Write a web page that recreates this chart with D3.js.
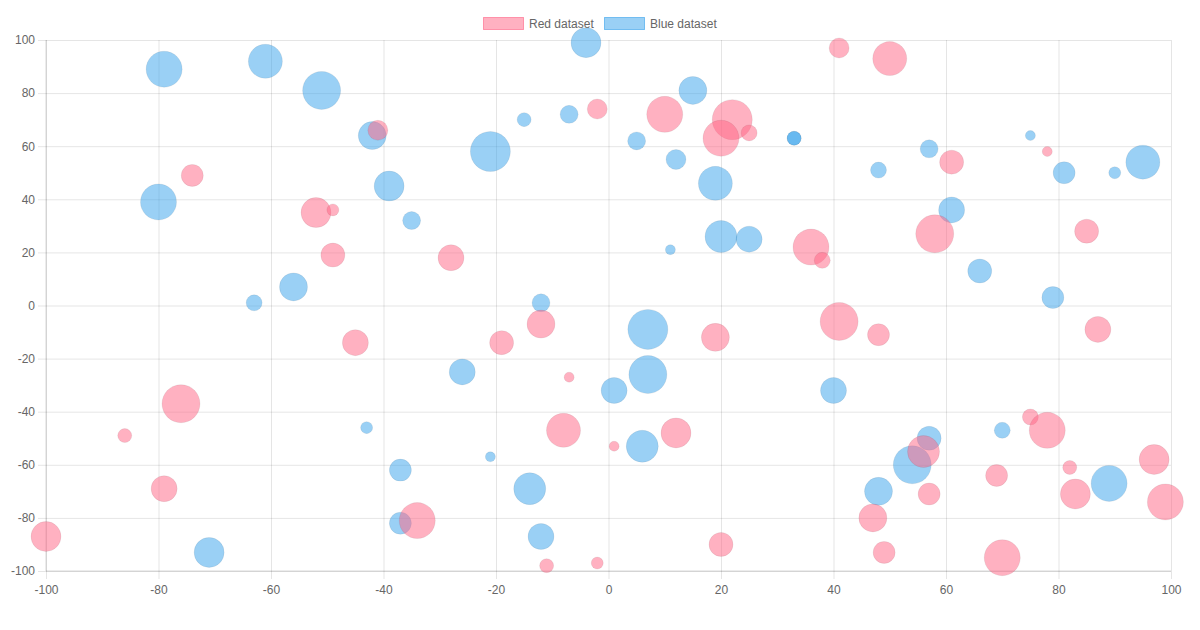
<!DOCTYPE html>
<html>
<head>
<meta charset="utf-8">
<script src="https://cdn.jsdelivr.net/npm/d3@7"></script>
<style>
  body { margin: 0; background: #fff; }
  text { font-family: "Liberation Sans", Arial, Helvetica, sans-serif; }
</style>
</head>
<body>
<script>
// tick values for both axes
const xTicks = [-100, -80, -60, -40, -20, 0, 20, 40, 60, 80, 100];
const yTicks = [-100, -80, -60, -40, -20, 0, 20, 40, 60, 80, 100];

const datasetNames = ["Red dataset", "Blue dataset"];

// red dataset: x, y, r
const redData = [
    {x: -100, y: -87, r: 15}, {x: -86, y: -49, r: 7}, {x: -76, y: -37, r: 19},
    {x: -79, y: -69, r: 13}, {x: -74, y: 49, r: 11}, {x: -52, y: 35, r: 15},
    {x: -49, y: 36, r: 6}, {x: -49, y: 19, r: 12}, {x: -41, y: 66, r: 10},
    {x: -45, y: -14, r: 13}, {x: -34, y: -81, r: 18}, {x: -28, y: 18, r: 13},
    {x: -19, y: -14, r: 12}, {x: -12, y: -7, r: 14}, {x: -7, y: -27, r: 5},
    {x: -8, y: -47, r: 17}, {x: -11, y: -98, r: 7}, {x: -2, y: -97, r: 6},
    {x: -2, y: 74, r: 10}, {x: 1, y: -53, r: 5}, {x: 10, y: 72, r: 18},
    {x: 12, y: -48, r: 15}, {x: 19, y: -12, r: 14}, {x: 20, y: -90, r: 12},
    {x: 22, y: 70, r: 20}, {x: 20, y: 63, r: 18}, {x: 25, y: 65, r: 8},
    {x: 41, y: 97, r: 10}, {x: 50, y: 93, r: 17}, {x: 36, y: 22, r: 18},
    {x: 38, y: 17, r: 8}, {x: 41, y: -6, r: 19}, {x: 48, y: -11, r: 11},
    {x: 58, y: 27, r: 19}, {x: 61, y: 54, r: 12}, {x: 78, y: 58, r: 5},
    {x: 85, y: 28, r: 12}, {x: 87, y: -9, r: 13}, {x: 75, y: -42, r: 8},
    {x: 78, y: -47, r: 18}, {x: 56, y: -55, r: 16}, {x: 57, y: -71, r: 11},
    {x: 47, y: -80, r: 14}, {x: 49, y: -93, r: 11}, {x: 69, y: -64, r: 11},
    {x: 70, y: -95, r: 18}, {x: 82, y: -61, r: 7}, {x: 83, y: -71, r: 15},
    {x: 97, y: -58, r: 15}, {x: 99, y: -74, r: 18}
];

// blue dataset: x, y, r
const blueData = [
    {x: -79, y: 89, r: 18}, {x: -61, y: 92, r: 17}, {x: -51, y: 81, r: 19},
    {x: -42, y: 64, r: 14}, {x: -80, y: 39, r: 18}, {x: -39, y: 45, r: 15},
    {x: -35, y: 32, r: 9}, {x: -56, y: 7, r: 14}, {x: -63, y: 1, r: 8},
    {x: -21, y: 58, r: 20}, {x: -15, y: 70, r: 7}, {x: -7, y: 72, r: 9},
    {x: -4, y: 99, r: 15}, {x: 5, y: 62, r: 9}, {x: 12, y: 55, r: 10},
    {x: 15, y: 81, r: 14}, {x: 19, y: 46, r: 17}, {x: 33, y: 63, r: 7},
    {x: 33, y: 63, r: 7}, {x: 20, y: 26, r: 16}, {x: 25, y: 25, r: 13},
    {x: 11, y: 21, r: 5}, {x: -12, y: 1, r: 9}, {x: 7, y: -9, r: 20},
    {x: 7, y: -26, r: 19}, {x: 1, y: -32, r: 13}, {x: -26, y: -25, r: 13},
    {x: 6, y: -53, r: 16}, {x: -21, y: -57, r: 5}, {x: -14, y: -69, r: 16},
    {x: -12, y: -87, r: 13}, {x: -43, y: -46, r: 6}, {x: -37, y: -62, r: 11},
    {x: -37, y: -82, r: 11}, {x: -71, y: -93, r: 15}, {x: 40, y: -32, r: 13},
    {x: 48, y: 51, r: 8}, {x: 57, y: 59, r: 9}, {x: 61, y: 36, r: 13},
    {x: 66, y: 13, r: 12}, {x: 75, y: 64, r: 5}, {x: 81, y: 50, r: 11},
    {x: 90, y: 50, r: 6}, {x: 95, y: 54, r: 17}, {x: 79, y: 3, r: 11},
    {x: 57, y: -50, r: 12}, {x: 54, y: -60, r: 19}, {x: 48, y: -70, r: 14},
    {x: 70, y: -47, r: 8}, {x: 89, y: -67, r: 18}
];

const w = 1200, h = 630;
const plotLeft = 46, plotRight = 1171, plotTop = 40, plotBottom = 571;

const colors = {
    red: { fill: "rgba(255, 99, 132, 0.5)", stroke: "rgba(255, 99, 132, 0.6)" },
    blue: { fill: "rgba(54, 162, 235, 0.5)", stroke: "rgba(54, 162, 235, 0.6)" }
};

// plain hyphen minus, like the original
const fmt = function (d) { return String(d); };

const svg = d3.select("body").append("svg")
    .attr("width", w)
    .attr("height", h);

const x = d3.scaleLinear().domain([-100, 100]).range([plotLeft, plotRight]);
const y = d3.scaleLinear().domain([-100, 100]).range([plotBottom, plotTop]);
const r = d3.scaleLinear().domain([0, 20]).range([0, 20]);

// x axis + vertical grid
const xAxis = svg.append("g")
    .attr("transform", "translate(0," + plotBottom + ")")
    .call(d3.axisBottom(x).tickValues(xTicks).tickFormat(fmt)
        .tickSize(8).tickSizeOuter(0).tickPadding(6));
xAxis.select(".domain").remove();
xAxis.selectAll("line")
    .attr("y1", -(plotBottom - plotTop))
    .attr("stroke", "rgba(0,0,0,0.1)");
xAxis.selectAll("text")
    .attr("fill", "#666")
    .style("font-size", "12px");

// y axis + horizontal grid
const yAxis = svg.append("g")
    .attr("transform", "translate(" + plotLeft + ",0)")
    .call(d3.axisLeft(y).tickValues(yTicks).tickFormat(fmt)
        .tickSize(8).tickSizeOuter(0).tickPadding(3));
yAxis.select(".domain").remove();
yAxis.selectAll("line")
    .attr("x1", plotRight - plotLeft)
    .attr("stroke", "rgba(0,0,0,0.1)");
yAxis.selectAll("text")
    .attr("fill", "#666")
    .style("font-size", "12px");

// axis borders
svg.append("line")
    .attr("x1", plotLeft).attr("x2", plotLeft)
    .attr("y1", plotTop).attr("y2", plotBottom)
    .attr("stroke", "rgba(0,0,0,0.15)");
svg.append("line")
    .attr("x1", plotLeft).attr("x2", plotRight)
    .attr("y1", plotBottom).attr("y2", plotBottom)
    .attr("stroke", "rgba(0,0,0,0.15)");

// bubbles: blue first, red on top (chart.js draws first dataset last)
const series = [
    { data: blueData, c: colors.blue },
    { data: redData, c: colors.red }
];

series.forEach(function (s) {
    svg.append("g")
        .selectAll("circle")
        .data(s.data)
        .join("circle")
        .attr("cx", function (d) { return x(d.x); })
        .attr("cy", function (d) { return y(d.y); })
        .attr("r", function (d) { return r(d.r); })
        .attr("fill", s.c.fill)
        .attr("stroke", "rgba(0,0,0,0.06)")
        .attr("stroke-width", 1);
});

// legend
const legendItems = [
    { name: datasetNames[0], c: colors.red, x: 483 },
    { name: datasetNames[1], c: colors.blue, x: 604 }
];

const legend = svg.append("g");
legendItems.forEach(function (item) {
    legend.append("rect")
        .attr("x", item.x + 0.5)
        .attr("y", 17.5)
        .attr("width", 40)
        .attr("height", 12)
        .attr("fill", item.c.fill)
        .attr("stroke", item.c.stroke)
        .attr("stroke-width", 1);
    legend.append("text")
        .attr("x", item.x + 46)
        .attr("y", 28)
        .attr("fill", "#666")
        .style("font-size", "12px")
        .text(item.name);
});
</script>
</body>
</html>
